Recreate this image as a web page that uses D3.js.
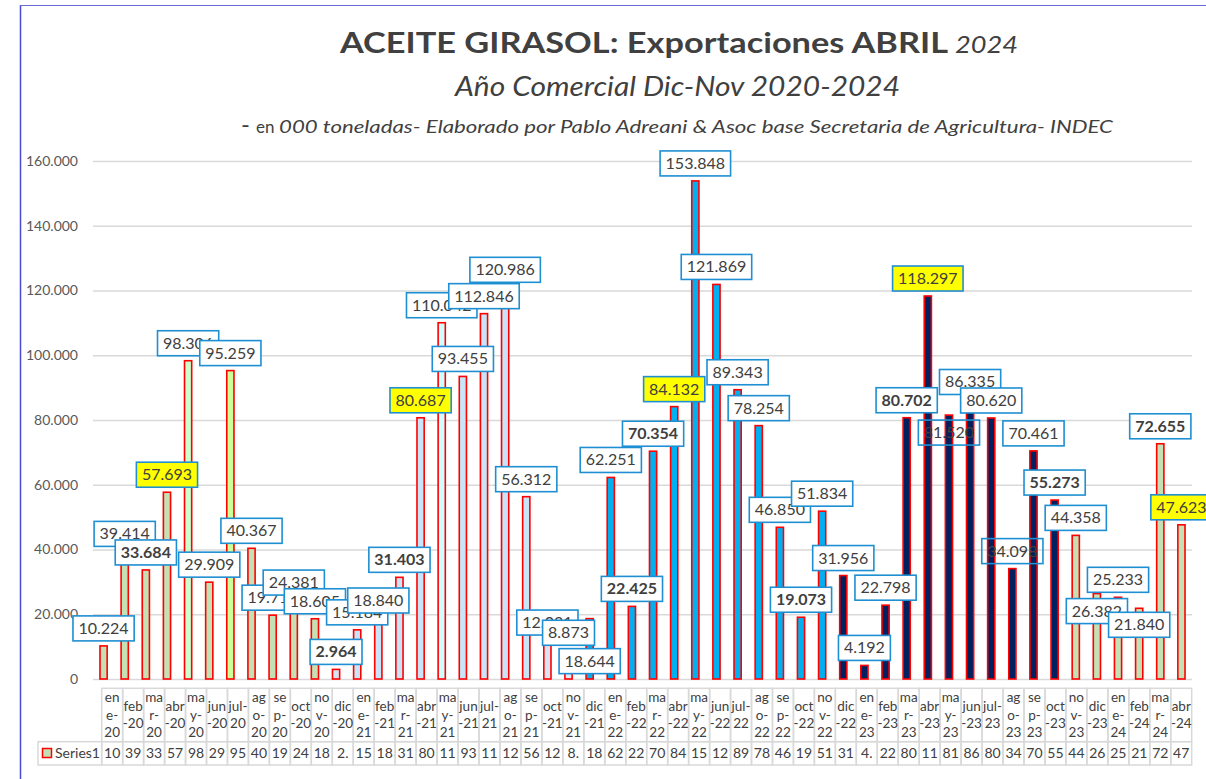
<!DOCTYPE html>
<html>
<head>
<meta charset="utf-8">
<script src="https://cdn.jsdelivr.net/npm/d3@7"></script>
<style>
  body { margin: 0; background: #fff; }
  svg { display: block; font-family: Lato, "Open Sans", sans-serif; }
</style>
</head>
<body>
<div id="wrapper"></div>
<script>
// data
var months = ["ene-20","feb-20","mar-20","abr-20","may-20","jun-20","jul-20","ago-20","sep-20","oct-20","nov-20","dic-20",
              "ene-21","feb-21","mar-21","abr-21","may-21","jun-21","jul-21","ago-21","sep-21","oct-21","nov-21","dic-21",
              "ene-22","feb-22","mar-22","abr-22","may-22","jun-22","jul-22","ago-22","sep-22","oct-22","nov-22","dic-22",
              "ene-23","feb-23","mar-23","abr-23","may-23","jun-23","jul-23","ago-23","sep-23","oct-23","nov-23","dic-23",
              "ene-24","feb-24","mar-24","abr-24"];
var exports = [10224,39414,33684,57693,98306,29909,95259,40367,19713,24381,18605,2964,
               15184,18840,31403,80687,110042,93455,112846,120986,56312,12031,8873,18644,
               62251,22425,70354,84132,153848,121869,89343,78254,46850,19073,51834,31956,
               4192,22798,80702,118297,81520,86335,80620,34098,70461,55273,44358,26382,
               25233,21840,72655,47623];
var yTicks = [0,20000,40000,60000,80000,100000,120000,140000,160000];
var seriesName = "Series1";

// styling per bar / label
var green = "#c5e0b4", pale = "#c8e4f6", blue = "#00b0f0", navy = "#002060";
var barFill = [green,green,green,green,"#ccffcc",green,"#ccff99",green,green,green,green,"#d9e4f2",
               pale,pale,pale,pale,"#ccffff",pale,pale,pale,pale,"#d9e4f2","#e2eaf6",blue,
               blue,blue,blue,blue,blue,blue,blue,blue,blue,blue,blue,navy,
               navy,navy,navy,navy,navy,navy,navy,navy,navy,navy,green,green,
               green,green,green,green];
var boldLabels = [2,11,14,25,26,33,38,45,50];
var yellowLabels = [3,15,27,39,51];
var clearLabels = [40,43];
var labelDrop = {23: 60, 40: 35, 47: 35, 49: 34};

// month label wrapping as seen in the data table
var wrapParts = {ene:["en","e-",""], feb:["feb","-"], mar:["ma","r-",""], abr:["abr","-"], may:["ma","y-",""],
                 jun:["jun","-"], jul:["jul-",""], ago:["ag","o-",""], sep:["se","p-",""], oct:["oct","-"],
                 nov:["no","v-",""], dic:["dic","-"]};
var wrapLabel = function(m) {
    var p = wrapParts[m.slice(0,3)].slice(), yy = m.slice(4);
    p[p.length - 1] = p[p.length - 1] + yy;
    return p;
};

var locale = d3.formatLocale({decimal: ",", thousands: ".", grouping: [3], currency: ["$",""]});
var fmt = locale.format(",.0f");

var W = 1206, H = 779;
var plot = {left: 93, right: 1192, top: 161, bottom: 679};

var svg = d3.select("#wrapper").append("svg").attr("width", W).attr("height", H);

// frame lines
svg.append("line").attr("x1", 20.5).attr("x2", 20.5).attr("y1", 5).attr("y2", H)
    .attr("stroke", "#4a4ad8").attr("stroke-width", 1.5);
svg.append("line").attr("x1", 20).attr("x2", W).attr("y1", 5.5).attr("y2", 5.5)
    .attr("stroke", "#6a6ad8").attr("stroke-width", 1.2);

// titles
svg.append("text").attr("x", 340).attr("y", 53).attr("textLength", 608).attr("lengthAdjust", "spacingAndGlyphs")
    .attr("font-size", 29).attr("font-weight", "bold").attr("fill", "#404040")
    .text("ACEITE GIRASOL: Exportaciones ABRIL");
svg.append("text").attr("x", 955).attr("y", 53).attr("textLength", 63).attr("lengthAdjust", "spacingAndGlyphs")
    .attr("font-size", 23).attr("font-style", "italic").attr("fill", "#404040").text("2024");
svg.append("text").attr("x", 455).attr("y", 96).attr("textLength", 445).attr("lengthAdjust", "spacingAndGlyphs")
    .attr("font-size", 27).attr("font-style", "italic").attr("fill", "#404040").text("Año Comercial Dic-Nov 2020-2024");
svg.append("text").attr("x", 241).attr("y", 133).attr("font-size", 24).attr("fill", "#404040").text("-");
svg.append("text").attr("x", 256).attr("y", 133).attr("font-size", 17).attr("fill", "#404040").text("en");
svg.append("text").attr("x", 279).attr("y", 133).attr("textLength", 834).attr("lengthAdjust", "spacingAndGlyphs")
    .attr("font-size", 18).attr("font-style", "italic").attr("fill", "#404040")
    .text("000 toneladas- Elaborado por Pablo Adreani & Asoc base Secretaria de Agricultura- INDEC");

// scales
var x = d3.scaleBand().domain(months).range([plot.left, plot.right]).paddingInner(0.66).paddingOuter(0.33);
var y = d3.scaleLinear().domain([0, 160000]).range([plot.bottom, plot.top]);
var xt = d3.scaleBand().domain(months).range([101.7, 1191.7]);

// gridlines + y axis
var yAxis = svg.append("g").attr("transform", "translate(" + plot.left + ",0)")
    .call(d3.axisLeft(y).tickValues(yTicks).tickFormat(fmt)
        .tickSize(-(plot.right - plot.left)).tickPadding(15));
yAxis.select(".domain").remove();
yAxis.selectAll("line").attr("stroke", "#d9d9d9").attr("stroke-width", 1.3);
yAxis.selectAll("text").attr("fill", "#595959").attr("font-size", 14).attr("font-family", "Lato, sans-serif");

// bars
svg.append("g").selectAll("rect")
    .data(exports)
    .enter()
    .append("rect")
    .attr("x", function(d, i) { return x(months[i]); })
    .attr("y", function(d) { return y(d); })
    .attr("width", x.bandwidth())
    .attr("height", function(d) { return y(0) - y(d); })
    .attr("fill", function(d, i) { return barFill[i]; })
    .attr("stroke", "#ff0000")
    .attr("stroke-width", 1.6);

// data labels
var labels = svg.append("g");
exports.forEach(function(d, i) {
    var g = labels.append("g");
    var cx = x(months[i]) + x.bandwidth() / 2;
    var cy = y(d) - 5 - 12.5 + (labelDrop[i] || 0);
    var box = g.append("rect");
    var t = g.append("text")
        .attr("x", cx).attr("y", cy + 5.5)
        .attr("text-anchor", "middle")
        .attr("font-size", 16)
        .attr("font-weight", boldLabels.indexOf(i) >= 0 ? "bold" : "normal")
        .attr("fill", "#404040")
        .text(fmt(d));
    var w = t.node().getComputedTextLength() + 11;
    box.attr("x", cx - w / 2).attr("y", cy - 12.5).attr("width", w).attr("height", 25)
        .attr("fill", yellowLabels.indexOf(i) >= 0 ? "#ffff00" : (clearLabels.indexOf(i) >= 0 ? "none" : "#ffffff"))
        .attr("stroke", "#1e8fd2").attr("stroke-width", 1.6);
});

// data table
var table = svg.append("g");
var rowTop = 688.3, rowMid = 741.7, rowBot = 765;
var gridColor = "#d9d9d9";

table.selectAll("rect.head")
    .data(months)
    .enter()
    .append("rect")
    .attr("x", function(d) { return xt(d); })
    .attr("y", rowTop)
    .attr("width", xt.bandwidth())
    .attr("height", rowMid - rowTop)
    .attr("fill", "none").attr("stroke", gridColor).attr("stroke-width", 1.5);

table.selectAll("rect.val")
    .data(months)
    .enter()
    .append("rect")
    .attr("x", function(d) { return xt(d); })
    .attr("y", rowMid)
    .attr("width", xt.bandwidth())
    .attr("height", rowBot - rowMid)
    .attr("fill", "none").attr("stroke", gridColor).attr("stroke-width", 1.5);

table.append("rect").attr("x", 38).attr("y", rowMid).attr("width", 101.7 - 38).attr("height", rowBot - rowMid)
    .attr("fill", "none").attr("stroke", gridColor).attr("stroke-width", 1.5);

var lh = 17.6;
months.forEach(function(m) {
    var lines = wrapLabel(m);
    var cx = xt(m) + xt.bandwidth() / 2;
    lines.forEach(function(s, j) {
        table.append("text")
            .attr("x", cx)
            .attr("y", 715 - (lines.length - 1) * lh / 2 + j * lh + 4.5)
            .attr("text-anchor", "middle")
            .attr("font-size", 13.5)
            .attr("fill", "#404040")
            .text(s);
    });
});

table.selectAll("text.v")
    .data(exports)
    .enter()
    .append("text")
    .attr("x", function(d, i) { return xt(months[i]) + xt.bandwidth() / 2; })
    .attr("y", 758)
    .attr("text-anchor", "middle")
    .attr("font-size", 14)
    .attr("fill", "#404040")
    .text(function(d) { return fmt(d).slice(0, 2); });

// legend key
table.append("rect").attr("x", 42.5).attr("y", 748.5).attr("width", 9).attr("height", 9)
    .attr("fill", green).attr("stroke", "#ff0000").attr("stroke-width", 1.5);
table.append("text").attr("x", 55).attr("y", 758).attr("font-size", 14).attr("fill", "#404040").text(seriesName);
</script>
</body>
</html>
